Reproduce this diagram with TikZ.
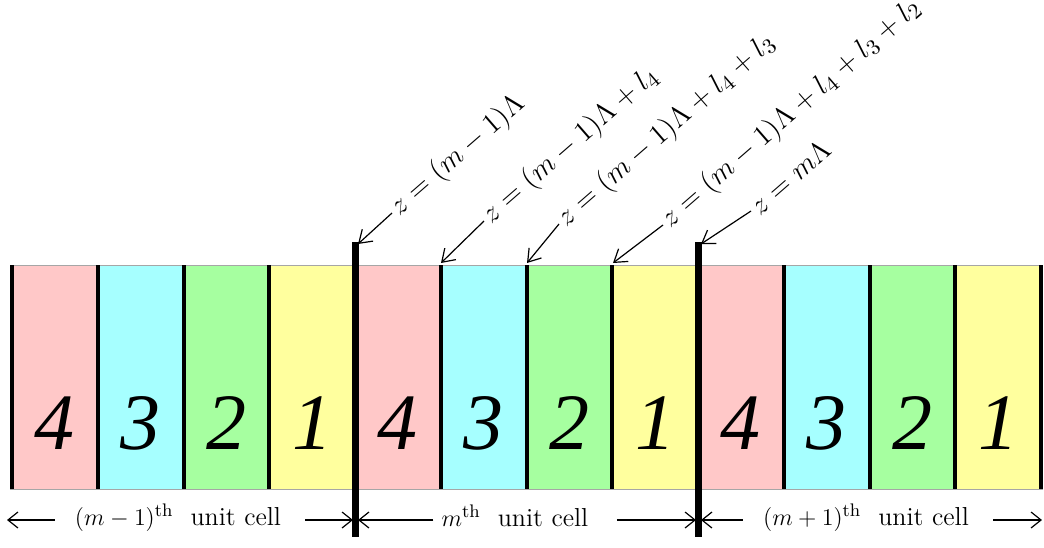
\documentclass[tikz,border=0pt]{standalone}
\usepackage{fontspec}
\newfontfamily\digitfont{Liberation Serif}
\usetikzlibrary{arrows.meta}
\definecolor{cpink}{RGB}{255,200,200}
\definecolor{ccyan}{RGB}{166,255,255}
\definecolor{cgreen}{RGB}{166,255,160}
\definecolor{cyellow}{RGB}{255,255,158}
\begin{document}
\begin{tikzpicture}[x=0.5pt,y=-0.5pt,
  digit/.style={font=\fontsize{40}{40}\selectfont\digitfont\itshape, anchor=center, inner sep=0pt},
  zlabel/.style={font=\fontsize{15.5}{18}\selectfont, anchor=west, rotate=41, inner sep=1.5pt},
  pointer/.style={-{Straight Barb[length=6pt,width=8pt]}, line width=0.6pt},
  span/.style={-{Straight Barb[length=5pt,width=8pt]}, line width=0.6pt},
  thindiv/.style={line width=2pt},
  thickdiv/.style={line width=3.5pt},
  celllabel/.style={font=\fontsize{13}{15}\selectfont, inner sep=2pt},
]
\useasboundingbox (0,0) rectangle (1044,547);

% cells
\foreach \i/\c/\d in {0/cpink/4,1/ccyan/3,2/cgreen/2,3/cyellow/1,
                      4/cpink/4,5/ccyan/3,6/cgreen/2,7/cyellow/1,
                      8/cpink/4,9/ccyan/3,10/cgreen/2,11/cyellow/1}{
  \fill[\c] ({12+85.75*\i},265) rectangle ({12+85.75*(\i+1)},489);
  \node[digit] (d\i) at ({12+85.75*(\i+0.5)},423) {\d};
}
\draw[gray!70, line width=0.5pt] (10,265) rectangle (1042,489);
\foreach \i in {0,1,2,3,5,6,7,9,10,11,12}
  \draw[thindiv] ({12+85.75*\i},265) -- ({12+85.75*\i},489);
\draw[thickdiv] (355,242) -- (355,537);
\draw[thickdiv] (698,242) -- (698,537);

% tips of the pointers
\coordinate (t1) at (358,244);
\coordinate (t2) at (441,263);
\coordinate (t3) at (527,263);
\coordinate (t4) at (613,263);
\coordinate (t5) at (701,244);

% labels
\node[zlabel] (z1) at (392,213) {$z=(m-1)\Lambda$};
\node[zlabel] (z2) at (484,221) {$z=(m-1)\Lambda+l_4$};
\node[zlabel] (z3) at (559,224) {$z=(m-1)\Lambda+l_4+l_3$};
\node[zlabel] (z4) at (663,225) {$z=(m-1)\Lambda+l_4+l_3+l_2$};
\node[zlabel] (z5) at (751,211) {$z=m\Lambda$};

\foreach \k in {1,...,5}
  \draw[pointer] (z\k.west) -- (t\k);

% unit cell spans
\coordinate (e0) at (7,520);
\coordinate (e1l) at (353,520);
\coordinate (e1r) at (358,520);
\coordinate (e2l) at (696,520);
\coordinate (e2r) at (701,520);
\coordinate (e3) at (1042,520);

\node[celllabel] (u1) at (178,518) {$(m-1)^{\mathrm{th}}$\ \ unit cell};
\node[celllabel] (u2) at (515,516) {$m^{\mathrm{th}}$\ \ unit cell};
\node[celllabel] (u3) at (866,518) {$(m+1)^{\mathrm{th}}$\ \ unit cell};

\draw[span, shorten <=8pt] (u1.west |- e0) -- (e0);
\draw[span, shorten <=10pt] (u1.east |- e0) -- (e1l);
\draw[span, shorten <=2pt] (u2.west |- e0) -- (e1r);
\draw[span, shorten <=12pt] (u2.east |- e0) -- (e2l);
\draw[span, shorten <=8pt] (u3.west |- e0) -- (e2r);
\draw[span, shorten <=10pt] (u3.east |- e0) -- (e3);
\end{tikzpicture}
\end{document}
